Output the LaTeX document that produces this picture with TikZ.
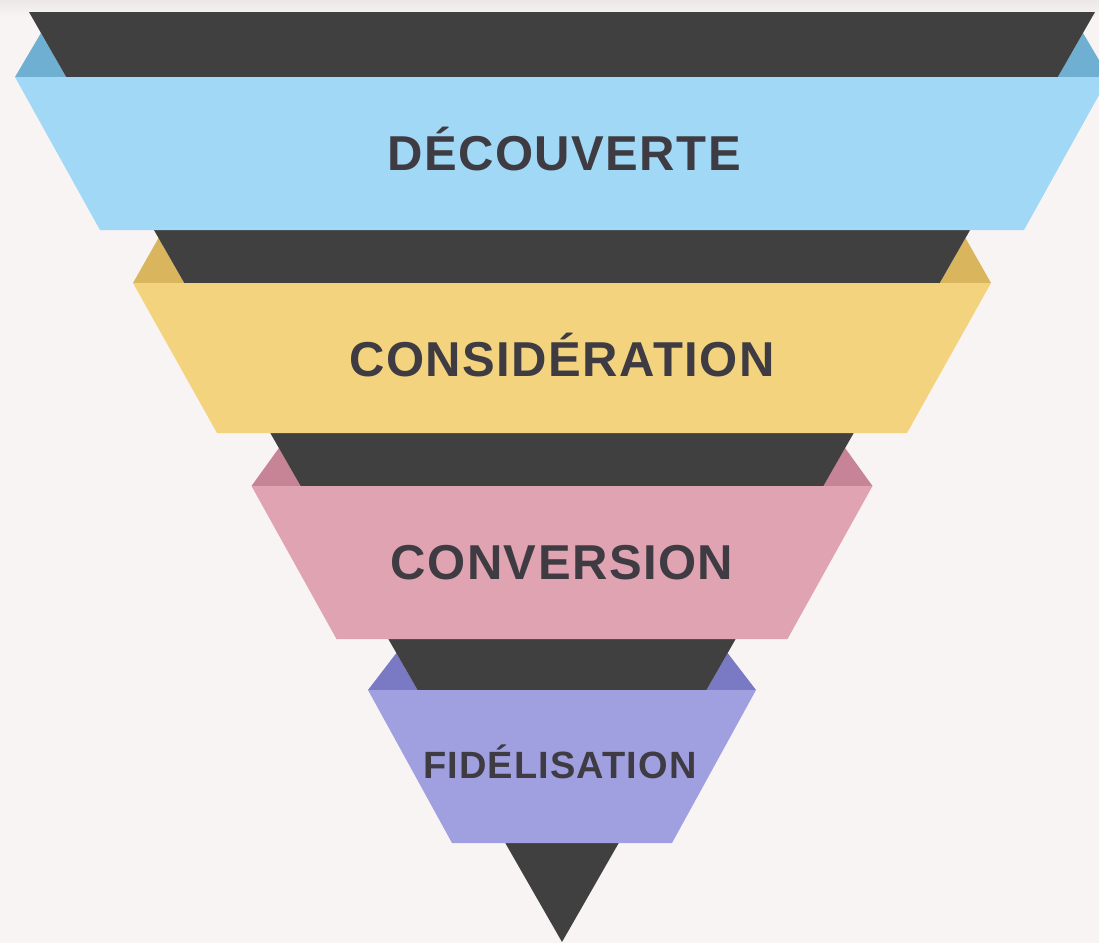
\documentclass[tikz,border=0pt]{standalone}
\usepackage{fontspec}
\newfontfamily\funnelfont[LetterSpace=3]{Liberation Sans}
\definecolor{paper}{RGB}{248,244,244}
\definecolor{papertop}{RGB}{236,232,232}
\definecolor{funneldark}{RGB}{64,64,64}
\definecolor{stagetextcol}{RGB}{62,60,66}
\definecolor{blueband}{RGB}{160,216,245}
\definecolor{bluetab}{RGB}{111,176,210}
\definecolor{yellowband}{RGB}{244,211,126}
\definecolor{yellowtab}{RGB}{217,182,94}
\definecolor{pinkband}{RGB}{224,163,178}
\definecolor{pinktab}{RGB}{200,132,151}
\definecolor{purpleband}{RGB}{160,160,224}
\definecolor{purpletab}{RGB}{122,122,196}

\begin{document}
\begin{tikzpicture}[x=1pt,y=-1pt,
  stagetext/.style={font=\funnelfont\bfseries\fontsize{49}{49}\selectfont,
    text=stagetextcol, anchor=base, inner sep=0pt},
  smalltext/.style={stagetext, font=\funnelfont\bfseries\fontsize{38}{38}\selectfont}]
\useasboundingbox[fill=paper] (0,0) rectangle (1099,943);
\shade[top color=papertop, bottom color=paper] (0,0) rectangle (1099,16);

\fill[bluetab] (15,77) -- (41,33) -- (66.3,77) -- cycle;
\fill[bluetab] (1109,77) -- (1083,33) -- (1057.7,77) -- cycle;
\fill[yellowtab] (133,283) -- (158.5,238) -- (184.3,283) -- cycle;
\fill[yellowtab] (991,283) -- (965.5,238) -- (939.7,283) -- cycle;
\fill[pinktab] (251.5,486) -- (278.9,448) -- (300.7,486) -- cycle;
\fill[pinktab] (872.5,486) -- (845.1,448) -- (823.3,486) -- cycle;
\fill[purpletab] (368,690) -- (396.4,653) -- (417.6,690) -- cycle;
\fill[purpletab] (756,690) -- (727.6,653) -- (706.4,690) -- cycle;

\fill[funneldark] (29,12) -- (1095,12) -- (562,942) -- cycle;

\fill[blueband] (15,77) -- (1109,77) -- (1024,230) -- (100,230) -- cycle;
\fill[yellowband] (133,283) -- (991,283) -- (907,433) -- (217,433) -- cycle;
\fill[pinkband] (251.5,486) -- (872.5,486) -- (787.5,639) -- (336.5,639) -- cycle;
\fill[purpleband] (368,690) -- (756,690) -- (672,843) -- (452,843) -- cycle;

\node[stagetext] (decouverte) at (564,170) {DÉCOUVERTE};
\node[stagetext] (consideration) at (562,376) {CONSIDÉRATION};
\node[stagetext] (conversion) at (562,579) {CONVERSION};
\node[smalltext] (fidelisation) at (560,778) {FIDÉLISATION};
\end{tikzpicture}
\end{document}
